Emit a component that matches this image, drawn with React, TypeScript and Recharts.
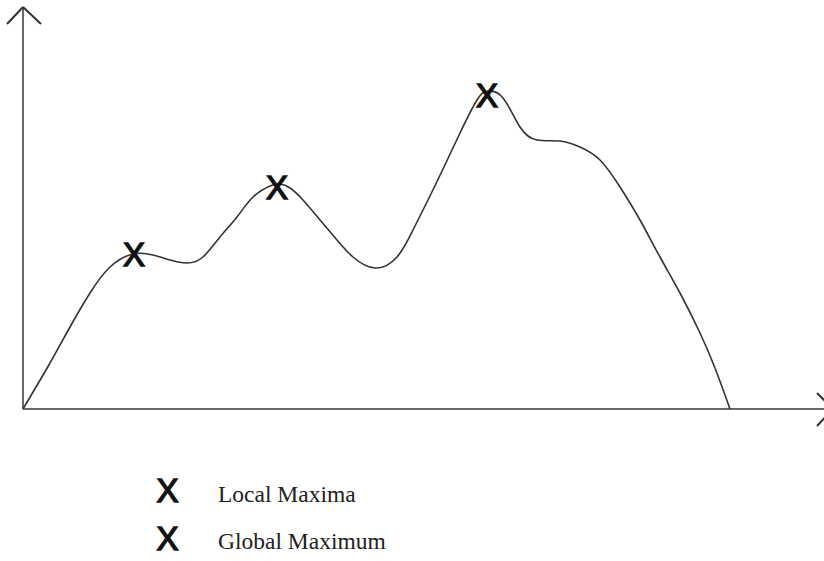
import React from 'react';
import {
  ComposedChart,
  Line,
  Scatter,
  XAxis,
  YAxis,
  ReferenceLine,
  Customized,
} from 'recharts';

// Curve (x grows right, y grows up from the x axis).
const curveX = [0, 27, 47, 67, 87, 110, 130, 147, 164, 180, 197, 214, 230, 247, 257, 267, 280, 297, 314, 330, 352, 374, 390, 405, 420, 437, 454, 465, 480, 497, 514, 537, 557, 577, 597, 617, 637, 657, 677, 692, 707];
const curveY = [0, 46, 82, 116, 142, 155, 154, 149, 146, 152, 172, 192, 212, 223, 225, 221, 209, 189, 169, 152, 141, 152, 179, 209, 240, 276, 309, 318, 311, 282, 269, 268, 262, 249, 222, 189, 152, 116, 76, 41, 0];

const localMaxX = [111, 254];
const localMaxY = [155, 222];
const globalMaxX = [464];
const globalMaxY = [314];

const legendLabels = ['Local Maxima', 'Global Maximum'];

const curve = curveX.map((x, i) => ({ x, y: curveY[i] }));
const localMax = localMaxX.map((x, i) => ({ x, y: localMaxY[i] }));
const globalMax = globalMaxX.map((x, i) => ({ x, y: globalMaxY[i] }));

const AXIS = '#6a6a6a';

// draws the "X" marker glyph centred on the point
const CrossMark = (props: any) => {
  const { cx, cy } = props;
  if (cx == null || cy == null) return null;
  return (
    <text
      x={cx}
      y={cy + 12}
      textAnchor="middle"
      fontFamily="'Liberation Sans', Arial, sans-serif"
      fontSize={33}
      fill="#111"
      stroke="#111"
      strokeWidth={1.4}
    >
      X
    </text>
  );
};

const LegendBlock = () => (
  <g>
    {legendLabels.map((label, i) => (
      <g key={label}>
        <text
          x={167.5}
          y={502 + i * 47.5}
          textAnchor="middle"
          fontFamily="'Liberation Sans', Arial, sans-serif"
          fontSize={33}
          fill="#111"
          stroke="#111"
          strokeWidth={1.4}
        >
          X
        </text>
        <text
          x={218}
          y={502 + i * 47}
          fontFamily="'Liberation Serif', 'Times New Roman', serif"
          fontSize={23.5}
          fill="#222"
        >
          {label}
        </text>
      </g>
    ))}
  </g>
);

export default function App() {
  return (
    <div style={{ position: 'absolute', left: 0, top: 0, background: '#fff' }}>
      <ComposedChart
        width={824}
        height={561}
        margin={{ top: 9, right: 1, bottom: 152, left: 23 }}
      >
        <XAxis dataKey="x" type="number" domain={[0, 800]} hide />
        <YAxis dataKey="y" type="number" domain={[0, 400]} hide />

        {/* axes with arrow heads */}
        <ReferenceLine segment={[{ x: 0, y: 0 }, { x: 0, y: 402 }]} stroke={AXIS} strokeWidth={2} ifOverflow="visible" />
        <ReferenceLine segment={[{ x: -16, y: 385 }, { x: 0, y: 402 }]} stroke="#333" strokeWidth={2} ifOverflow="visible" />
        <ReferenceLine segment={[{ x: 18, y: 385 }, { x: 0, y: 402 }]} stroke="#333" strokeWidth={2} ifOverflow="visible" />
        <ReferenceLine segment={[{ x: 0, y: 0 }, { x: 810, y: 0 }]} stroke={AXIS} strokeWidth={2} ifOverflow="visible" />
        <ReferenceLine segment={[{ x: 794, y: 16 }, { x: 810, y: 0 }]} stroke="#333" strokeWidth={2} ifOverflow="visible" />
        <ReferenceLine segment={[{ x: 794, y: -17 }, { x: 810, y: 0 }]} stroke="#333" strokeWidth={2} ifOverflow="visible" />

        <Line
          data={curve}
          dataKey="y"
          type="natural"
          stroke="#333"
          strokeWidth={1.6}
          dot={false}
          activeDot={false}
          isAnimationActive={false}
        />
        <Scatter data={localMax} dataKey="y" shape={CrossMark} isAnimationActive={false} />
        <Scatter data={globalMax} dataKey="y" shape={CrossMark} isAnimationActive={false} />

        <Customized component={LegendBlock} />
      </ComposedChart>
    </div>
  );
}
